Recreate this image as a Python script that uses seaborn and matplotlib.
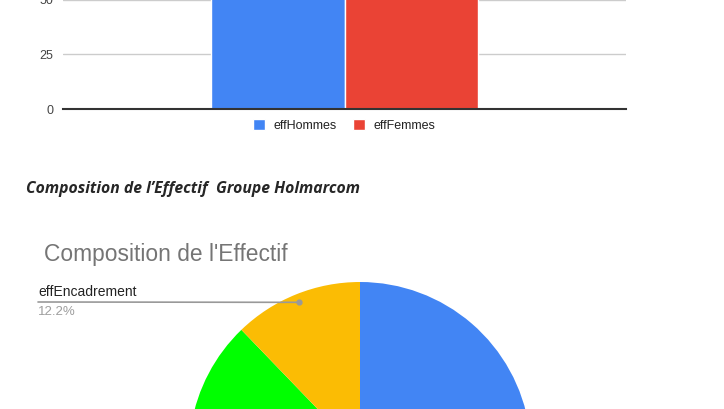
import pandas as pd
import numpy as np
import seaborn as sns
import matplotlib.pyplot as plt

# barres effectif par sexe
series = ['effHommes', 'effFemmes']
effectifs = [118, 96]
# camembert composition
categories = ['effExecution', 'effMaitrise', 'effTechniciens', 'effEncadrement']
parts = [45.3, 22.1, 20.4, 12.2]

couleurs_bar = ['#4285F4', '#EA4335']
couleurs_pie = ['#4285F4', '#EA4335', '#00FF00', '#FBBC04']

sns.set_style('white')
plt.rcParams['font.family'] = ['Liberation Sans', 'DejaVu Sans']

W, H = 724, 409
fig = plt.figure(figsize=(W / 100, H / 100), dpi=100)

def box(x0, y0, x1, y1):                                     # pixels (haut-gauche) -> fraction figure
    return [x0 / W, 1 - y1 / H, (x1 - x0) / W, (y1 - y0) / H]

# ---- diagramme en barres (coupé en haut)
px_per_unit = 54.7 / 25
ax = fig.add_axes(box(63, 109 - 100 * px_per_unit, 626, 109))
df = pd.DataFrame({'groupe': ['Holmarcom'] * 2, 'serie': series, 'valeur': effectifs})
sns.barplot(data=df, x='groupe', y='valeur', hue='serie', palette=couleurs_bar,
            width=0.476, saturation=1, edgecolor='white', linewidth=1, ax=ax)
ax.set_xlim(-0.5, 0.5)
ax.set_ylim(0, 100)
ax.set_yticks([0, 25, 50, 75, 100])
ax.yaxis.grid(True, color='#cccccc', linewidth=1)
ax.set_axisbelow(True)
ax.set_xticks([])
ax.set_xlabel('')
ax.set_ylabel('')
ax.tick_params(axis='y', length=0, pad=7, labelsize=9, labelcolor='#444444')
for s in ['top', 'right', 'left']:
    ax.spines[s].set_visible(False)
ax.spines['bottom'].set_color('#333333')
ax.spines['bottom'].set_linewidth(1.5)
ax.legend(loc='upper center', bbox_to_anchor=(0.5, -0.025), ncol=2, frameon=False,
          handlelength=0.95, handleheight=0.95, handletextpad=0.7, columnspacing=1.3,
          fontsize=9, labelcolor='#222222', borderaxespad=0)

# ---- titre du document
fig.text(26 / W, 1 - 189 / H, 'Composition de l\u2019Effectif  Groupe Holmarcom',
         fontsize=11.3, fontweight='bold', fontstyle='italic', va='center', ha='left',
         family=['Open Sans', 'DejaVu Sans'])

# ---- camembert (coupé en bas)
cx, cy, r = 360, 453, 171
ax2 = fig.add_axes(box(cx - r, cy - r, cx + r, cy + r))
ax2.pie(parts, colors=couleurs_pie, startangle=90, counterclock=False, radius=1,
        wedgeprops=dict(linewidth=0))
ax2.set_xlim(-1, 1)
ax2.set_ylim(-1, 1)
ax2.set_aspect('equal')
ax2.axis('off')

fig.text(44 / W, 1 - 255 / H, "Composition de l'Effectif", fontsize=16.4, color='#757575',
         va='center', ha='left')

# étiquette effEncadrement
ang = np.deg2rad(90 + 360 * parts[-1] / 100 / 2)
px, py = 0.95 * np.cos(ang), 0.95 * np.sin(ang)
ax2.annotate('', xy=(px, py), xycoords='data', xytext=(38 / W, 1 - 302 / H),
             textcoords='figure fraction',
             arrowprops=dict(arrowstyle='-', color='#999999', lw=1.2, shrinkA=0, shrinkB=0))
ax2.plot([px], [py], 'o', color='#999999', markersize=3.5, clip_on=False)
fig.text(38 / W, 1 - 292 / H, categories[-1], fontsize=10, color='#222222', va='center', ha='left')
fig.text(38 / W, 1 - 312 / H, f'{parts[-1]:.1f}%', fontsize=9.5, color='#9e9e9e', va='center', ha='left')

fig.savefig('out.png', dpi=100)
